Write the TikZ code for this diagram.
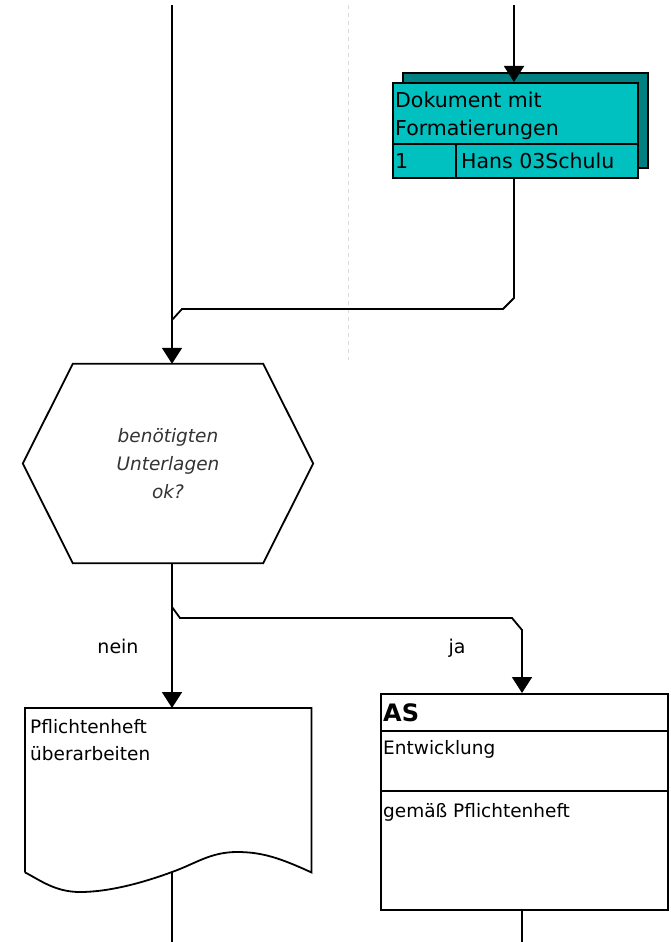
\documentclass[tikz,border=0pt]{standalone}
\usepackage{fontspec}
\setmainfont{DejaVu Sans}
\usetikzlibrary{arrows.meta,calc,positioning}
\definecolor{tealfront}{RGB}{0,192,192}
\definecolor{tealback}{RGB}{0,128,128}
\tikzset{
  flow/.style={line width=1.8pt,-{Triangle[width=20pt,length=16pt]}},
  link/.style={line width=1.8pt},
  box/.style={draw,line width=1.8pt,rectangle,inner sep=0pt},
  txt/.style={font=\fontsize{18.5}{27}\selectfont,inner sep=0pt,anchor=base west,align=left},
  lbl/.style={font=\fontsize{19}{24}\selectfont,inner sep=0pt,anchor=base},
}

\begin{document}
\begin{tikzpicture}[x=1pt,y=-1pt]
            \useasboundingbox (0,0) rectangle (671,942);
            \coordinate (topL) at (172,5); % linke Spur
            \coordinate (topR) at (514,5); % rechte Spur
            \draw[black!15,line width=1pt,dash pattern=on 4pt off 4pt] (348,5) -- (348,360);
            % Dokument
            \node (docback) [box,fill=tealback,minimum width=245,minimum height=95,anchor=north west] at (402,72) {};
            \node (doc) [box,fill=tealfront,minimum width=245,minimum height=95,anchor=north west] at (392,82) {};
            \draw[link] (doc.west |- 0,144) -- (doc.east |- 0,144);
            \draw[link] (456,144) -- (456,0 |- doc.south);
            \node (doctitle) [txt,font=\fontsize{20.5}{28}\selectfont] at (395,135) {Dokument mit\\Formatierungen};
            \node (docnr) [txt,font=\fontsize{20.5}{28}\selectfont] at (395,168) {1};
            \node (docauthor) [txt,font=\fontsize{20.5}{28}\selectfont] at (461,168) {Hans 03Schulu};
            \draw[flow] (topR) -- (topR |- doc.north);
            % Entscheidung
            \node (hex) [minimum width=290,minimum height=199,inner sep=0pt,text=black!80,
                         font=\fontsize{18.5}{28}\selectfont\itshape,align=center] at (168,463.5) {benötigten\\Unterlagen\\ok?};
            \draw[line width=1.8pt] ($(hex.north west)+(50,0)$) -- ($(hex.north east)+(-50,0)$) -- (hex.east)
                -- ($(hex.south east)+(-50,0)$) -- ($(hex.south west)+(50,0)$) -- (hex.west) -- cycle;
            \draw[flow] (topL) -- (topL |- hex.north);
            \draw[link] (topR |- doc.south) -- (514,298) -- (503,309) -- (182,309) -- (172,320);
            % nein
            \node (note) [minimum width=286,minimum height=164,inner sep=0pt,anchor=north west] at (25,708) {};
            \draw[line width=1.8pt] (note.south west) -- (note.north west) -- (note.north east) -- (note.south east)
                .. controls (280,858) and (262,852) .. (237,852)
                .. controls (210,852) and (195,864) .. (172,872)
                .. controls (145,882) and (110,892) .. (80,892)
                .. controls (55,892) and (40,880) .. (note.south west);
            \node (notetext) [txt] at (30,760) {Pflichtenheft\\überarbeiten};
            \draw[flow] (topL |- hex.south) -- (topL |- note.north);
            \node (nein) [lbl] at (118,653) {nein};
            % ja
            \node (as) [box,minimum width=287,minimum height=216,anchor=north west] at (380,693) {};
            \draw[link] (as.west |- 0,731) -- (as.east |- 0,731);
            \draw[link] (as.west |- 0,791) -- (as.east |- 0,791);
            \node (astitle) [txt,font=\fontsize{24}{28}\selectfont\bfseries] at (383,721) {AS};
            \node (asrole) [txt] at (383,754) {Entwicklung};
            \node (asnote) [txt] at (383,817) {gemäß Pflichtenheft};
            \coordinate (split) at (172,607);
            \draw[flow] (split) -- (180,618) -- (512,618) -- (522,630) -- (522,0 |- as.north);
            \node (ja) [lbl] at (457,653) {ja};
            % weiter
            \coordinate (botL) at (172,942);
            \coordinate (botR) at (522,942);
            \draw[link] (topL |- note.south) -- (botL);
            \draw[link] (522,0 |- as.south) -- (botR);
\end{tikzpicture}
\end{document}
